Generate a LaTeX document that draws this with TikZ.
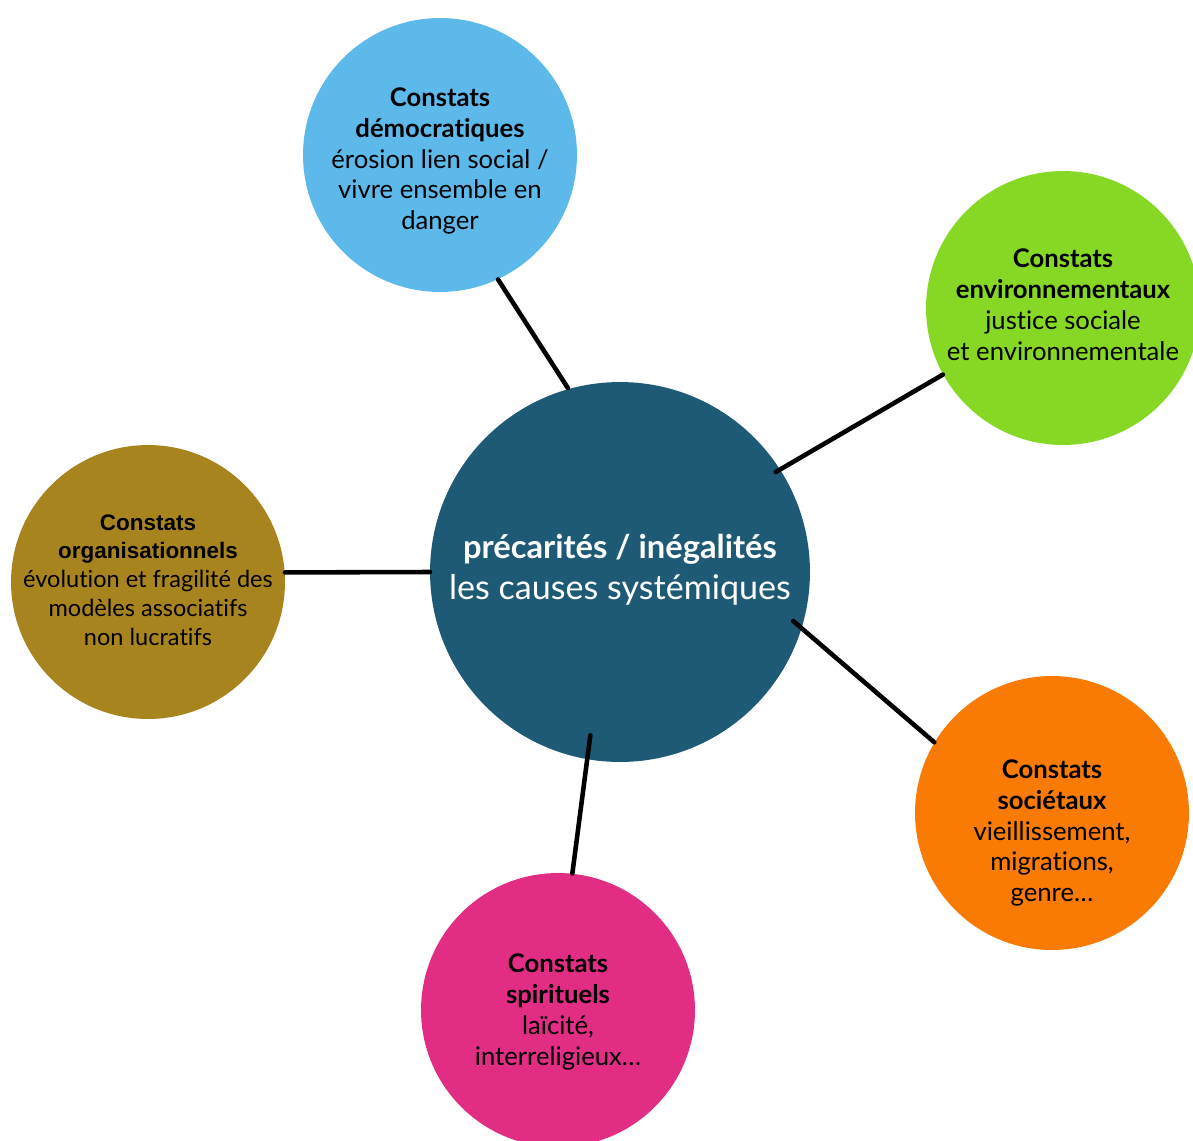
\documentclass[tikz,border=0pt]{standalone}
\usepackage{fontspec}
\setmainfont{Lato}[Ligatures=NoCommon]
\newfontfamily\arialfont{Liberation Sans}
\usetikzlibrary{positioning}

\definecolor{hubblue}{HTML}{1E5A75}
\definecolor{skyblue}{HTML}{5DB9EA}
\definecolor{limegreen}{HTML}{86D824}
\definecolor{ochre}{HTML}{A8841F}
\definecolor{deeporange}{HTML}{FA7B03}
\definecolor{magentapink}{HTML}{E22D84}

\tikzset{
  bubble/.style={circle,inner sep=0pt,minimum size=5.48cm},
  legend/.style={align=center,font=\fontsize{14.6}{17.6}\selectfont},
  link/.style={line width=2.6pt,line cap=round}
}

\begin{document}
\begin{tikzpicture}[x=0.02cm,y=0.02cm]
  \useasboundingbox (0,0) rectangle (1193,-1140);
  \node[circle,inner sep=0pt,minimum size=7.6cm,fill=hubblue] (hub) at (620,-572) {};
  \node[bubble,fill=skyblue] (dem) at (440,-155) {};
  \node[bubble,fill=limegreen] (env) at (1063,-308) {};
  \node[bubble,fill=ochre] (org) at (148,-582) {};
  \node[bubble,fill=deeporange] (soc) at (1052,-813) {};
  \node[bubble,fill=magentapink] (spi) at (558,-1010) {};

  \node[align=center,text=white,font=\fontsize{18.6}{23.5}\selectfont] (hubtxt) at (620,-570)
    {\textbf{précarités / inégalités}\\{\fontsize{19.4}{23.5}\selectfont les causes systémiques}};
  \node[legend] (demtxt) at (440,-161)
    {\textbf{Constats}\\\textbf{démocratiques}\\érosion lien social /\\vivre ensemble en\\danger};
  \node[legend] (envtxt) at (1063,-305)
    {\textbf{Constats}\\\textbf{environnementaux}\\justice sociale\\et environnementale};
  \node[align=center,font=\fontsize{13.4}{16.4}\selectfont] (orgtxt) at (148,-580)
    {{\arialfont\fontsize{12.8}{16.4}\selectfont\bfseries Constats}\\{\arialfont\fontsize{12.8}{16.4}\selectfont\bfseries organisationnels}\\évolution et fragilité des\\modèles associatifs\\non lucratifs};
  \node[legend] (soctxt) at (1052,-833)
    {\textbf{Constats}\\\textbf{sociétaux}\\vieillissement,\\migrations,\\genre…};
  \node[legend] (spitxt) at (558,-1012)
    {\textbf{Constats}\\\textbf{spirituels}\\laïcité,\\interreligieux…};

  \draw[link] (dem.295.3) -- ([shift={(105.8:191)}]hub.center);
  \draw[link] (env.209.2) -- ([shift={(32.7:185)}]hub.center);
  \draw[link] (org.4.2) -- ([shift={(180:190)}]hub.center);
  \draw[link] (soc.149.5) -- ([shift={(-15.8:180)}]hub.center);
  \draw[link] (spi.84.2) -- ([shift={(259.7:166)}]hub.center);
\end{tikzpicture}
\end{document}
